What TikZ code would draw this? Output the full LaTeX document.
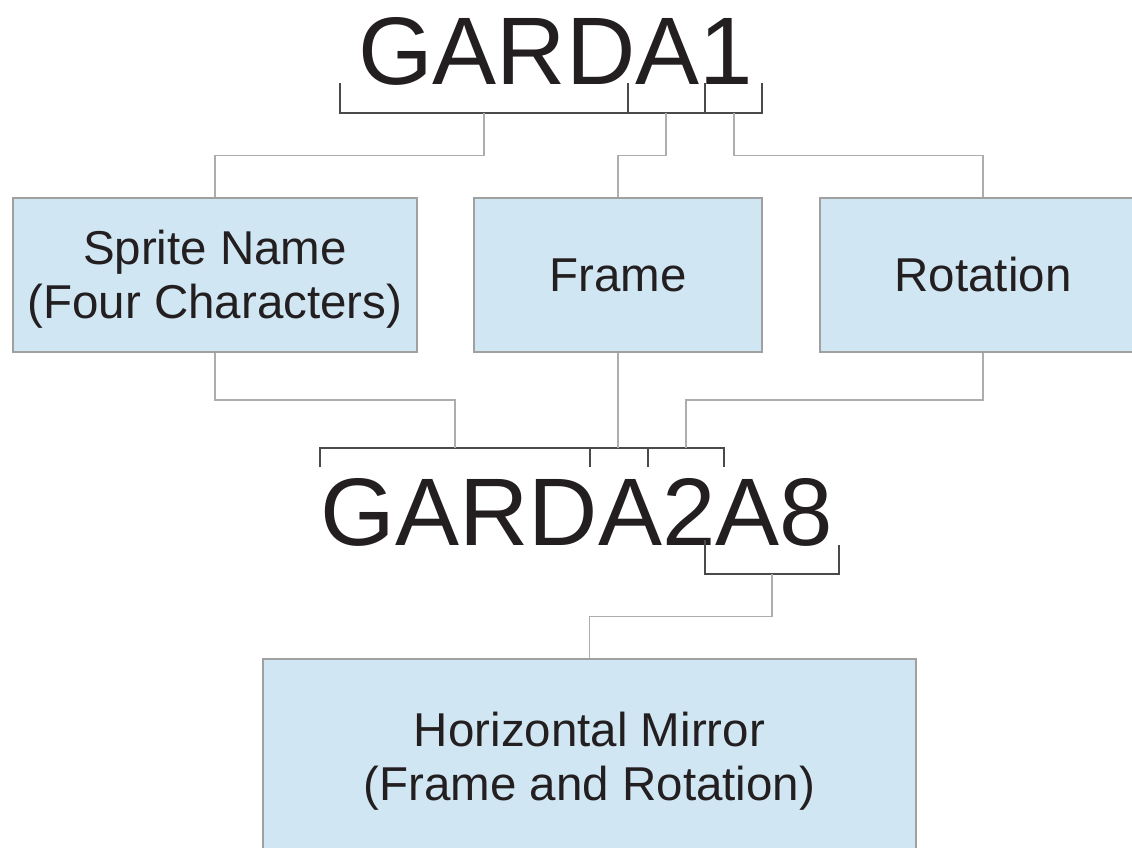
\documentclass[tikz,border=0pt]{standalone}
\usepackage{fontspec}
\setmainfont{Liberation Sans}
\usetikzlibrary{calc}
\definecolor{boxfill}{HTML}{D1E6F3}
\definecolor{boxline}{HTML}{A0A0A0}
\definecolor{connline}{HTML}{ADADAD}
\definecolor{brkline}{HTML}{4A4A4A}
\definecolor{ink}{HTML}{231F20}
\tikzset{
  infobox/.style={draw=boxline, line width=1.1pt, fill=boxfill, align=center,
    text=ink, inner sep=0pt, font=\fontsize{47.5}{54}\selectfont},
  conn/.style={draw=connline, line width=1.2pt},
  brk/.style={draw=brkline, line width=1.6pt},
  bigname/.style={anchor=base west, inner sep=0pt, text=ink,
    font=\fontsize{96}{96}\selectfont}
}
\begin{document}
\begin{tikzpicture}[x=1pt, y=-1pt]
\clip (0,0) rectangle (1132,847);
\fill[white] (0,0) rectangle (1132,847);

% lump names
\node[bigname] (top) at (358,84) {GARDA1};
\node[bigname] (bot) at (320.5,545) {GARDA2A8};

% boxes
\node[infobox, minimum width=404pt, minimum height=154pt] (sprite) at (215,275)
  {\rule{0pt}{43pt}Sprite Name\\(Four Characters)};
\node[infobox, minimum width=288pt, minimum height=154pt] (frame) at (618,275) {Frame};
\node[infobox, minimum width=326pt, minimum height=154pt] (rot) at (983,275) {Rotation};
\node[infobox, minimum width=653pt, minimum height=200pt] (mirror) at (589.5,759)
  {\rule{0pt}{39pt}Horizontal Mirror\\(Frame and Rotation)};

% bracket under GARDA1
\draw[brk] (340,83) -- (340,113) -- (762,113) -- (762,83);
\draw[brk] (628,113) -- (628,83);
\draw[brk] (705,113) -- (705,83);
\coordinate (t1) at (484,113);
\coordinate (t2) at (666,113);
\coordinate (t3) at (734,113);

% bracket above GARDA2A8
\draw[brk] (320,467) -- (320,448) -- (724,448) -- (724,467);
\draw[brk] (590,448) -- (590,467);
\draw[brk] (648,448) -- (648,467);
\coordinate (b1) at (455,448);
\coordinate (b2) at (618,448);
\coordinate (b3) at (686,448);

% bracket under the mirrored frame and rotation
\draw[brk] (705,540) -- (705,574) -- (839,574) -- (839,545);
\coordinate (m1) at (772,574);

% connectors
\draw[conn] (t1) |- ($(sprite.north)+(0,-42)$) -- (sprite.north);
\draw[conn] (t2) |- ($(frame.north)+(0,-42)$) -- (frame.north);
\draw[conn] (t3) |- ($(rot.north)+(0,-42)$) -- (rot.north);

\draw[conn] (sprite.south) |- ($(b1)+(0,-48)$) -- (b1);
\draw[conn] (frame.south) -- (b2);
\draw[conn] (rot.south) |- ($(b3)+(0,-48)$) -- (b3);

\draw[conn] (m1) |- ($(mirror.north)+(0,-42)$) -- (mirror.north);
\end{tikzpicture}
\end{document}
